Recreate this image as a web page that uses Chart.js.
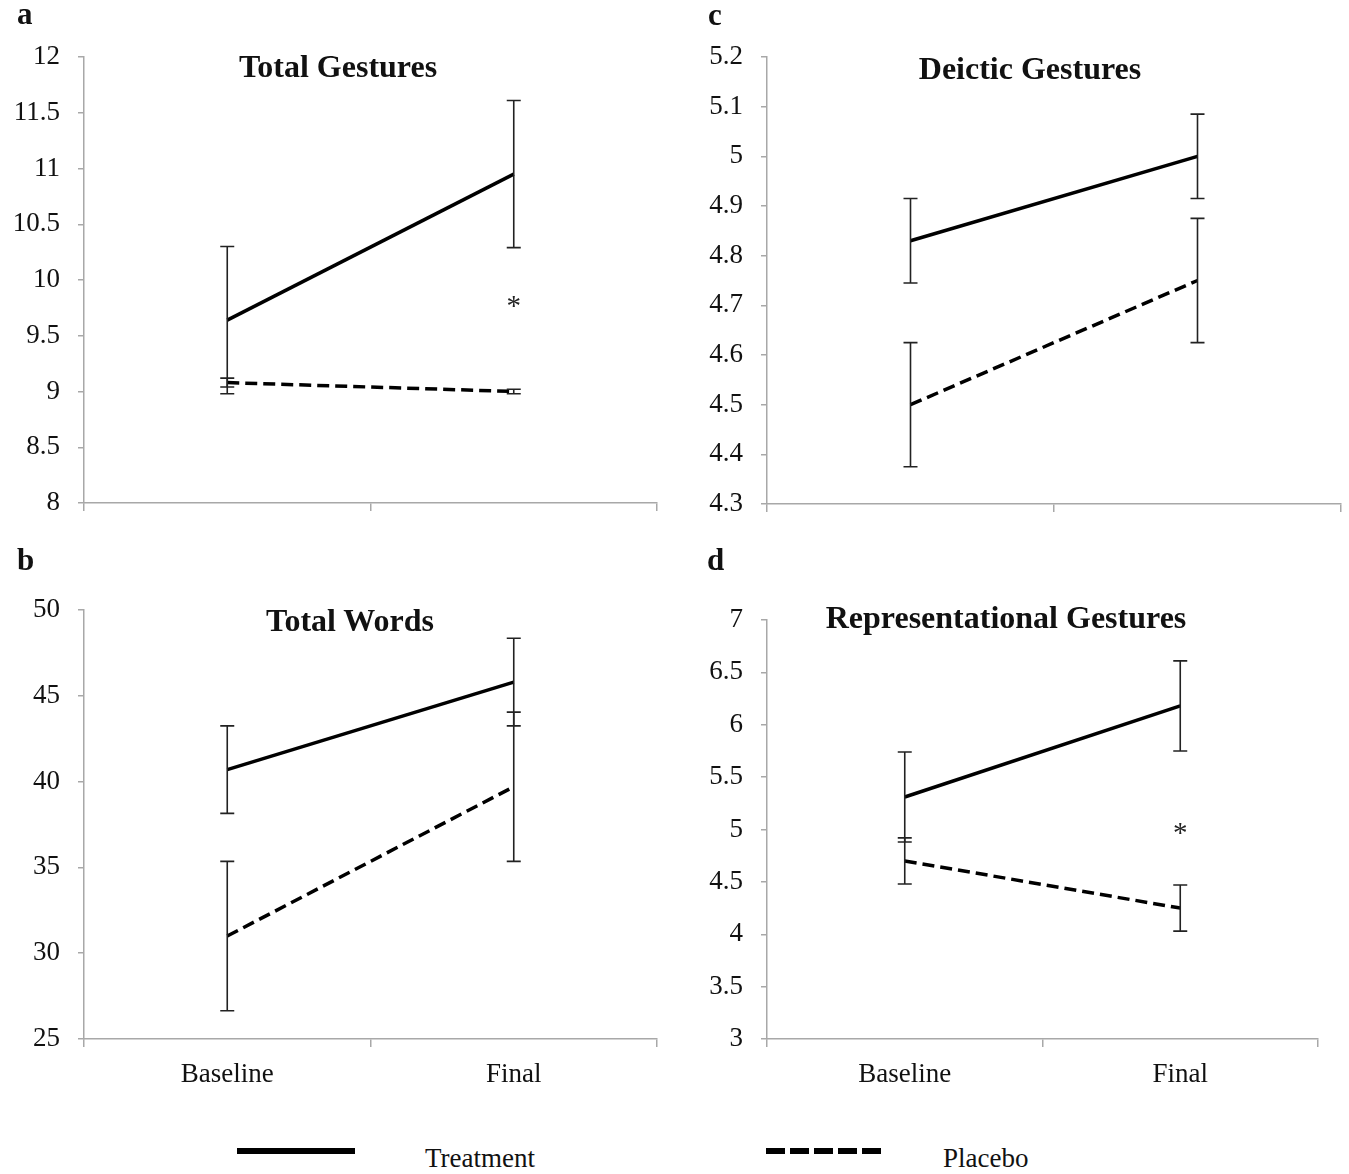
<!DOCTYPE html>
<html>
  <head>
    <title>Gestures and Words</title>
    <script src="https://cdn.jsdelivr.net/npm/chart.js"></script>
    <style>
      body {
        margin: 0;
        background: #fff;
        font-family: "Liberation Serif", "Times New Roman", serif;
      }
      #page {
        position: relative;
        width: 1349px;
        height: 1174px;
        overflow: hidden;
      }
      .panel {
        position: absolute;
      }
      .txt {
        position: absolute;
        line-height: 1;
        white-space: nowrap;
        color: #111;
      }
      .bold {
        font-weight: bold;
      }
      .center {
        transform: translateX(-50%);
      }
      .swatch {
        position: absolute;
        height: 6px;
      }
    </style>
  </head>
  <body>
    <div id="page">
      <canvas class="panel" id="chartA" width="680" height="540" style="left:0;top:0"></canvas>
      <canvas class="panel" id="chartC" width="669" height="540" style="left:680px;top:0"></canvas>
      <canvas class="panel" id="chartB" width="680" height="560" style="left:0;top:540px"></canvas>
      <canvas class="panel" id="chartD" width="669" height="560" style="left:680px;top:540px"></canvas>

      <div class="swatch" style="left:237px;top:1148px;width:118px;background:#000"></div>
      <div class="swatch" style="left:766px;top:1148px;width:115px;background:repeating-linear-gradient(to right,#000 0 19px,transparent 19px 24px)"></div>
    </div>

    <script>
      // categories + values (means and +/- error)
      const categories = ["Baseline", "Final"];

      const gestTreat = [9.64, 10.95];
      const gestTreatErr = [0.66, 0.66];
      const gestPlac = [9.08, 9.0];
      const gestPlacErr = [0.04, 0.02];
      const gestTicks = [8, 12, 0.5];

      const wordsTreat = [40.7, 45.8];
      const wordsTreatErr = [2.55, 2.55];
      const wordsPlac = [31.0, 39.7];
      const wordsPlacErr = [4.35, 4.35];
      const wordsTicks = [25, 50, 5];

      const deicTreat = [4.83, 5.0];
      const deicTreatErr = [0.085, 0.085];
      const deicPlac = [4.5, 4.75];
      const deicPlacErr = [0.125, 0.125];
      const deicTicks = [4.3, 5.2, 0.1];

      const repTreat = [5.31, 6.18];
      const repTreatErr = [0.43, 0.43];
      const repPlac = [4.7, 4.25];
      const repPlacErr = [0.22, 0.22];
      const repTicks = [3, 7, 0.5];

      // significance markers: [category, value]
      const gestStars = [["Final", 9.8]];
      const repStars = [["Final", 5.0]];

      const seriesNames = ["Treatment", "Placebo"];

      const serif = "'Liberation Serif', 'Times New Roman', serif";
      const axisGray = "#a8a8a8";
      const page = document.getElementById("page");

      function addText(str, x, baseline, size, cls) {
        const d = document.createElement("div");
        d.className = "txt " + (cls || "");
        d.textContent = str;
        d.style.fontSize = size + "px";
        d.style.left = x + "px";
        d.style.top = (baseline - 0.8375 * size) + "px";
        page.appendChild(d);
      }

      const errorBars = {
        id: "errorBars",
        afterDatasetsDraw(chart) {
          const { ctx, scales } = chart;
          ctx.save();
          ctx.strokeStyle = "#222";
          ctx.lineWidth = 1.6;
          chart.data.datasets.forEach(ds => {
            ds.data.forEach((v, i) => {
              const x = scales.x.getPixelForValue(i);
              const top = scales.y.getPixelForValue(v + ds.errors[i]);
              const bot = scales.y.getPixelForValue(v - ds.errors[i]);
              ctx.beginPath();
              ctx.moveTo(x, top); ctx.lineTo(x, bot);
              ctx.moveTo(x - 7, top); ctx.lineTo(x + 7, top);
              ctx.moveTo(x - 7, bot); ctx.lineTo(x + 7, bot);
              ctx.stroke();
            });
          });
          const stars = chart.options.plugins.errorBars.stars || [];
          ctx.fillStyle = "#222";
          ctx.font = "29px " + serif;
          ctx.textAlign = "center";
          ctx.textBaseline = "middle";
          stars.forEach(([cat, v]) => {
            ctx.fillText("*", scales.x.getPixelForValue(categories.indexOf(cat)), scales.y.getPixelForValue(v) + 5);
          });
          ctx.restore();
        }
      };

      function makeChart(id, treat, treatErr, plac, placErr, ticks, opts) {
        const [min, max, step] = ticks;
        return new Chart(document.getElementById(id), {
          type: "line",
          data: {
            labels: categories,
            datasets: [
              { label: seriesNames[0], data: treat, errors: treatErr, borderColor: "#000", borderWidth: 3.5, pointRadius: 0, fill: false },
              { label: seriesNames[1], data: plac, errors: placErr, borderColor: "#000", borderWidth: 3.5, borderDash: [12, 6], pointRadius: 0, fill: false }
            ]
          },
          options: {
            responsive: false,
            animation: false,
            layout: { padding: { left: 0, top: opts.top, right: opts.right, bottom: 0 } },
            plugins: {
              legend: { display: false },
              tooltip: { enabled: false },
              errorBars: { stars: opts.stars }
            },
            scales: {
              x: {
                offset: true,
                grid: { offset: true, drawOnChartArea: false, drawTicks: true, tickLength: 8, color: axisGray, lineWidth: 1.5 },
                border: { color: axisGray, width: 1.5 },
                ticks: { display: opts.xLabels, color: "#111", padding: 12, font: { family: serif, size: 27 } },
                afterFit: s => { s.height = opts.xHeight; }
              },
              y: {
                min: min, max: max,
                grid: { drawOnChartArea: false, drawTicks: true, tickLength: 6, color: axisGray, lineWidth: 1.5 },
                border: { color: axisGray, width: 1.5 },
                ticks: {
                  stepSize: step, padding: 18, color: "#111",
                  font: { family: serif, size: 27 },
                  callback: v => String(Math.round(v * 100) / 100)
                },
                afterFit: s => { s.width = opts.left; }
              }
            }
          },
          plugins: [errorBars]
        });
      }

      makeChart("chartA", gestTreat, gestTreatErr, gestPlac, gestPlacErr, gestTicks,
        { left: 84, top: 57, right: 23, xHeight: 37, xLabels: false, stars: gestStars });
      makeChart("chartC", deicTreat, deicTreatErr, deicPlac, deicPlacErr, deicTicks,
        { left: 87, top: 57, right: 8, xHeight: 36, xLabels: false, stars: [] });
      makeChart("chartB", wordsTreat, wordsTreatErr, wordsPlac, wordsPlacErr, wordsTicks,
        { left: 84, top: 70, right: 23, xHeight: 61, xLabels: true, stars: [] });
      makeChart("chartD", repTreat, repTreatErr, repPlac, repPlacErr, repTicks,
        { left: 87, top: 80, right: 31, xHeight: 61, xLabels: true, stars: repStars });

      // panel letters and titles
      addText("a", 17, 24, 31, "bold");
      addText("c", 708, 25, 31, "bold");
      addText("b", 17, 570, 31, "bold");
      addText("d", 707, 570, 31, "bold");

      addText("Total Gestures", 338, 77, 32, "bold center");
      addText("Deictic Gestures", 1030, 79, 32, "bold center");
      addText("Total Words", 350, 631, 32, "bold center");
      addText("Representational Gestures", 1006, 628, 32, "bold center");

      // legend labels
      addText(seriesNames[0], 425, 1168, 27);
      addText(seriesNames[1], 943, 1168, 27);
    </script>
  </body>
</html>
